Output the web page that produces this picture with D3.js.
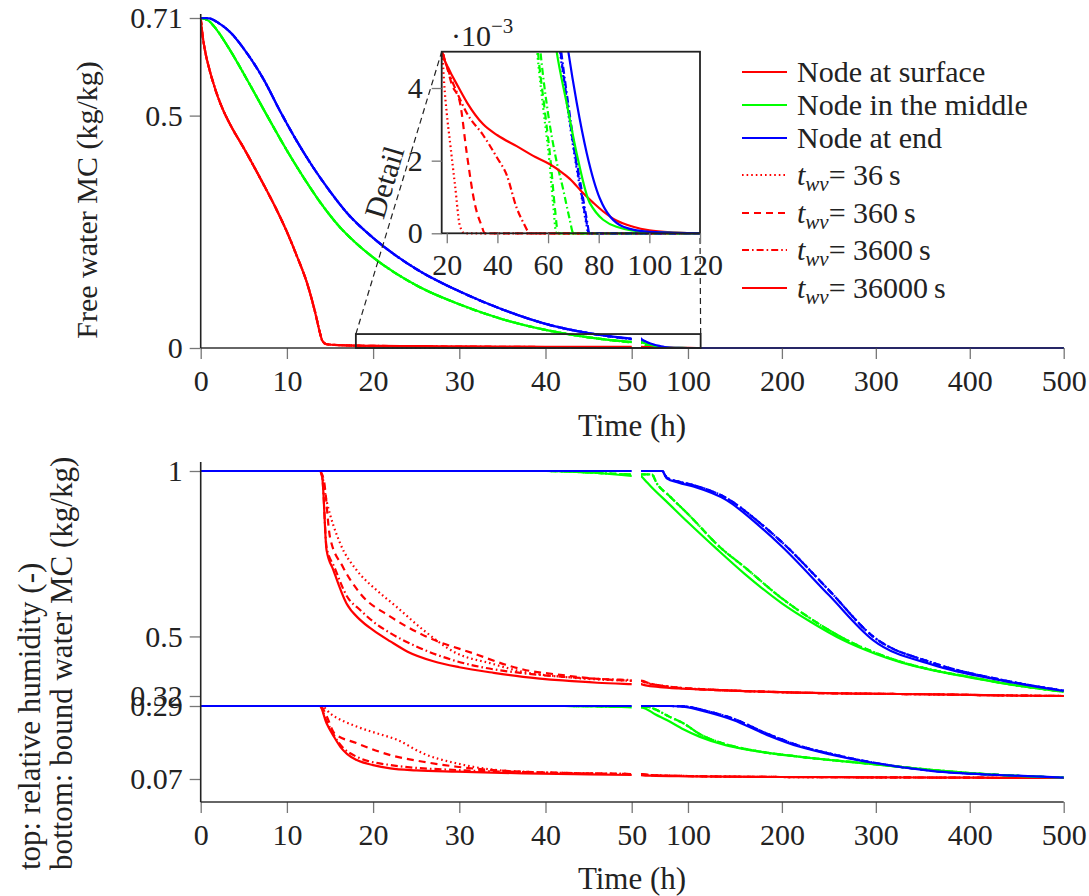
<!DOCTYPE html>
<html>
<head>
<meta charset="utf-8">
<script src="https://cdnjs.cloudflare.com/ajax/libs/d3/7.8.5/d3.min.js"></script>
<style>
  body { margin: 0; background: #fff; }
  svg { font-family: "Liberation Serif", "Times New Roman", serif; }
  .tick line { stroke: #777; stroke-width: 1.3; }
  .tick text { font-size: 30px; fill: #222; }
</style>
</head>
<body>
<div id="chart"></div>
<script>

// ---------- data (time in h) ----------

const nodeNames = ["Node at surface", "Node in the middle", "Node at end"];
const nodeColors = ["#ff0000", "#00ff00", "#0000ff"];
const twvValues = [36, 360, 3600, 36000];
const twvDash = ["1.6,3", "7,5", "7,3,1.6,3", null];

const xTicksA = [0, 10, 20, 30, 40, 50];
const xTicksB = [100, 200, 300, 400, 500];
const fwTicks = [0, 0.5, 0.71];
const rhTicks = [0.32, 0.5, 1];
const bmcTicks = [0.07, 0.29];
const insetXTicks = [20, 40, 60, 80, 100, 120];
const insetYTicks = [0, 0.002, 0.004];

// free water MC (kg/kg): heads are shared by the 4 t_wv runs
const fwSurfHead = [[0,0.71],[0.2,0.675],[0.5,0.64],[1,0.6],[1.5,0.568],[2,0.54],[2.6,0.512],[3.5,0.478],[5,0.43],[7,0.362],[9,0.29],[10,0.25],[11,0.205],[12.5,0.13],[13.3,0.075],[13.8,0.035],[14.1,0.016]];
const fwSurfTail36 = [[14.6,0.008],[16.2,0.0062],[18.3,0.0049],[19,0.0041],[20,0.0033],[21.3,0.0025],[23.3,0.0013],[25.2,0.0002],[27,0],[500,0]];
const fwSurfTail360 = [[14.6,0.008],[16.2,0.0062],[18.3,0.005],[20,0.0046],[22,0.0041],[25.2,0.0036],[27.9,0.0022],[31.1,0.0008],[33.8,0.0002],[35,0],[500,0]];
const fwSurfTail3600 = [[14.6,0.008],[16.2,0.0062],[18.5,0.005],[21,0.0044],[23.9,0.0039],[28,0.0033],[34.4,0.0027],[39.7,0.0021],[43.7,0.0016],[47.6,0.0007],[50.2,0.0003],[53,0],[500,0]];
const fwSurfTail36000 = [[14.6,0.008],[16.2,0.006],[18.2,0.005],[21,0.0045],[24,0.0041],[28,0.0036],[34.4,0.003],[40,0.0027],[47.6,0.0024],[55,0.0021],[60.7,0.0019],[65,0.0017],[68.6,0.0015],[73.9,0.0011],[78,0.00083],[81.8,0.0006],[87,0.00035],[93.6,0.00018],[100,0.00008],[110,0.00002],[120,0],[500,0]];

const fwMidHead = [[0,0.71],[0.5,0.708],[1,0.703],[1.5,0.693],[3.4,0.641],[5.3,0.58],[7.7,0.5],[10,0.425],[12,0.365],[14,0.31],[16,0.263],[18,0.226],[20,0.195],[25,0.135],[30,0.094],[35,0.062],[40,0.039],[45,0.023]];
const fwMidTail36 = [[50,0.012],[53,0.0075],[55.7,0.005],[58,0.0035],[60.5,0.002],[62,0.0008],[63.3,0],[500,0]];
const fwMidTail360 = [[50,0.012],[53,0.0078],[56,0.005],[58.5,0.0035],[61,0.002],[62.7,0.0007],[64,0],[500,0]];
const fwMidTail3600 = [[50,0.0125],[54,0.0075],[57,0.005],[60,0.0033],[63,0.0021],[66,0.0012],[68.5,0.0004],[70,0],[500,0]];
const fwMidTail36000 = [[50,0.013],[55,0.0095],[60,0.0068],[63.4,0.005],[67.3,0.0036],[71.3,0.0022],[76.5,0.00083],[87,0.00018],[100,0.00003],[120,0],[500,0]];

const fwEndHead = [[0,0.71],[1,0.709],[2,0.70],[3.4,0.68],[5.3,0.636],[7.3,0.578],[9.2,0.51],[11,0.45],[13,0.39],[15,0.337],[17,0.29],[20,0.237],[25,0.17],[30,0.122],[35,0.083],[40,0.052],[45,0.032]];
const fwEndTail36 = [[50,0.019],[55,0.012],[60,0.0078],[64.7,0.005],[68,0.0033],[71,0.0019],[73,0.0011],[75,0.0003],[76,0],[500,0]];
const fwEndTail360 = [[50,0.019],[55,0.0122],[60,0.008],[64.9,0.005],[68.2,0.0033],[71.2,0.0019],[73.2,0.0011],[75.2,0.0003],[76.1,0],[500,0]];
const fwEndTail3600 = [[50,0.0195],[55,0.0125],[60,0.0082],[65.2,0.005],[68.5,0.0033],[71.5,0.0019],[73.5,0.0011],[75.5,0.0003],[76.3,0],[500,0]];
const fwEndTail36000 = [[50,0.02],[55,0.014],[60,0.0095],[65,0.0065],[68,0.005],[71.3,0.0036],[75.3,0.0022],[80.5,0.00095],[89.7,0.00018],[100,0.00004],[120,0],[500,0]];

// relative humidity (-)
const rhSurf36 = [[0,1],[13.9,1],[14.6,0.91],[16.2,0.78],[18.1,0.70],[20.4,0.64],[22.7,0.59],[25.8,0.52],[29.7,0.449],[33.6,0.419],[37.4,0.393],[42,0.378],[46,0.37],[50,0.366],[55,0.361],[70,0.352],[90,0.345],[113,0.341],[160,0.335],[219,0.33],[290,0.327],[361,0.325],[430,0.322],[500,0.32]];
const rhSurf360 = [[0,1],[13.8,1],[14.3,0.97],[15,0.80],[16.5,0.71],[18.5,0.63],[22,0.56],[25.8,0.504],[31.6,0.449],[37.4,0.40],[42,0.383],[46,0.372],[50,0.366],[55,0.36],[70,0.352],[90,0.345],[113,0.341],[160,0.335],[219,0.33],[290,0.327],[361,0.325],[430,0.322],[500,0.32]];
const rhSurf3600 = [[0,1],[13.8,1],[14.1,0.98],[14.6,0.77],[15.5,0.71],[17,0.62],[18.5,0.58],[20,0.545],[22,0.51],[25,0.47],[29.7,0.425],[33,0.405],[37.4,0.389],[42,0.378],[46,0.372],[50,0.368],[55,0.362],[70,0.352],[90,0.345],[113,0.34],[160,0.335],[219,0.33],[290,0.327],[361,0.325],[430,0.322],[500,0.32]];
const rhSurf36000 = [[0,1],[13.8,1],[14.1,0.98],[14.6,0.761],[15.4,0.70],[16.9,0.60],[18.5,0.55],[20,0.519],[22,0.485],[24,0.454],[27,0.425],[30,0.407],[34,0.39],[37.4,0.378],[42,0.367],[46,0.36],[50,0.356],[55,0.352],[70,0.347],[90,0.343],[113,0.34],[160,0.335],[219,0.33],[290,0.327],[361,0.325],[430,0.322],[500,0.32]];
const rhMidRuns = [[0,1],[40,1],[43,0.998],[46,0.994],[50,0.99],[58,0.99],[61.4,0.99],[66.7,0.963],[80,0.925],[100,0.87],[134,0.77],[160,0.71],[200,0.615],[230,0.555],[265,0.495],[300,0.45],[326,0.424],[360,0.399],[397,0.379],[450,0.352],[500,0.333]];
const rhMid36000 = [[0,1],[40,1],[43,0.998],[46,0.994],[50,0.985],[55,0.97],[60,0.955],[80,0.9],[100,0.845],[130,0.766],[160,0.69],[200,0.6],[230,0.545],[265,0.489],[300,0.447],[326,0.422],[360,0.398],[397,0.378],[450,0.352],[500,0.333]];
const rhEndRuns = [[0,1],[73,1],[75,0.99],[77.4,0.98],[90,0.968],[106,0.957],[141,0.918],[177,0.842],[200,0.785],[250,0.64],[297,0.5],[361,0.42],[432,0.37],[500,0.336]];
const rhEnd36000 = [[0,1],[73,1],[75,0.99],[77.4,0.978],[90,0.965],[105.7,0.953],[141,0.912],[176.7,0.832],[200,0.772],[250,0.625],[297,0.489],[361,0.414],[432,0.368],[500,0.335]];

// bound water MC (kg/kg)
const bmcSurf36 = [[0,0.29],[14,0.29],[15,0.268],[18.1,0.228],[20.4,0.208],[22.8,0.188],[25.8,0.147],[29.7,0.117],[33.6,0.099],[37.4,0.092],[50,0.085],[60,0.082],[100,0.079],[200,0.076],[300,0.075],[400,0.074],[500,0.073]];
const bmcSurf360 = [[0,0.29],[13.9,0.29],[14.6,0.26],[15.5,0.208],[18.1,0.178],[22,0.142],[25.8,0.122],[29.7,0.107],[37.4,0.092],[50,0.085],[60,0.082],[100,0.079],[200,0.076],[300,0.075],[400,0.074],[500,0.073]];
const bmcSurf3600 = [[0,0.29],[13.8,0.29],[14.6,0.245],[16,0.18],[18.1,0.137],[22,0.112],[29.7,0.097],[37.4,0.091],[50,0.085],[60,0.082],[100,0.079],[200,0.076],[300,0.075],[400,0.074],[500,0.073]];
const bmcSurf36000 = [[0,0.29],[13.8,0.29],[14.6,0.238],[15.4,0.2],[16.2,0.167],[17,0.145],[18.1,0.127],[20,0.112],[22,0.102],[25,0.096],[29.7,0.092],[37.4,0.087],[45,0.084],[50,0.082],[60,0.08],[100,0.078],[200,0.076],[300,0.075],[400,0.074],[500,0.073]];
const bmcMidRuns = [[0,0.29],[42,0.29],[50,0.288],[58,0.287],[65,0.28],[80,0.258],[95,0.238],[112.8,0.205],[140,0.175],[166,0.158],[219,0.137],[290,0.117],[361,0.097],[432,0.082],[500,0.074]];
const bmcMid36000 = [[0,0.29],[42,0.29],[46,0.289],[50,0.286],[55,0.282],[65,0.265],[77.4,0.248],[95,0.22],[112.8,0.197],[140,0.172],[166,0.157],[219,0.137],[290,0.117],[361,0.097],[432,0.082],[500,0.074]];
const bmcEndRuns = [[0,0.29],[80,0.29],[95,0.289],[120,0.275],[148,0.252],[184,0.207],[219,0.17],[255,0.144],[290,0.123],[361,0.095],[432,0.082],[500,0.074]];
const bmcEnd36000 = [[0,0.29],[80,0.29],[95,0.288],[120,0.272],[148,0.248],[184,0.203],[219,0.167],[255,0.142],[290,0.122],[361,0.094],[432,0.082],[500,0.074]];

// runs indexed [twv][node]
const fwRuns = [
  [fwSurfHead.concat(fwSurfTail36), fwMidHead.concat(fwMidTail36), fwEndHead.concat(fwEndTail36)],
  [fwSurfHead.concat(fwSurfTail360), fwMidHead.concat(fwMidTail360), fwEndHead.concat(fwEndTail360)],
  [fwSurfHead.concat(fwSurfTail3600), fwMidHead.concat(fwMidTail3600), fwEndHead.concat(fwEndTail3600)],
  [fwSurfHead.concat(fwSurfTail36000), fwMidHead.concat(fwMidTail36000), fwEndHead.concat(fwEndTail36000)]
];
const rhRuns = [
  [rhSurf36, rhMidRuns, rhEndRuns],
  [rhSurf360, rhMidRuns, rhEndRuns],
  [rhSurf3600, rhMidRuns, rhEndRuns],
  [rhSurf36000, rhMid36000, rhEnd36000]
];
const bmcRuns = [
  [bmcSurf36, bmcMidRuns, bmcEndRuns],
  [bmcSurf360, bmcMidRuns, bmcEndRuns],
  [bmcSurf3600, bmcMidRuns, bmcEndRuns],
  [bmcSurf36000, bmcMid36000, bmcEnd36000]
];

// ---------- layout ----------
const width = 1089, height = 896;
const lineW = 2.2;

const svg = d3.select("#chart").append("svg")
  .attr("width", width).attr("height", height);
const defs = svg.append("defs");

// broken time axis: 0-50 linear, then 50-500 compressed
const xA = d3.scaleLinear().domain([0, 50]).range([200.7, 631.7]);
const xB = d3.scaleLinear().domain([50, 500]).range([641, 1063.7]);

const topAxisY = 348;
const botAxisY = 802;
const yFw = d3.scaleLinear().domain([0, 0.71]).range([topAxisY, 18]);
const yRh = d3.scaleLinear().domain([0.32, 1]).range([696, 471]);
const yBmc = d3.scaleLinear().domain([0.07, 0.29]).range([779, 706]);

function addClip(id, x0, x1, y0, y1) {
  defs.append("clipPath").attr("id", id)
    .append("rect").attr("x", x0).attr("y", y0).attr("width", x1 - x0).attr("height", y1 - y0);
}
addClip("topA", xA.range()[0], xA.range()[1], 0, topAxisY + 3);
addClip("topB", xB.range()[0], xB.range()[1] + 2, 0, topAxisY + 3);
addClip("botA", xA.range()[0], xA.range()[1], 455, botAxisY);
addClip("botB", xB.range()[0], xB.range()[1] + 2, 455, botAxisY);

function drawRuns(runs, yScale, clipA, clipB) {
  [[xA, clipA], [xB, clipB]].forEach(([xs, clip]) => {
    const g = svg.append("g").attr("clip-path", `url(#${clip})`);
    const line = d3.line().x(d => xs(d[0])).y(d => yScale(d[1])).curve(d3.curveMonotoneX);
    runs.forEach((nodeRuns, k) => {
      nodeRuns.forEach((data, n) => {
        g.append("path")
          .attr("d", line(data))
          .attr("fill", "none")
          .attr("stroke", nodeColors[n])
          .attr("stroke-width", lineW)
          .attr("stroke-dasharray", twvDash[k]);
      });
    });
  });
}

// d3 axes put a sans-serif font on their group; drop it so the page font applies
function plainFont(g) {
  g.attr("font-family", null).attr("font-size", null);
  g.select(".domain").remove();
}

function xAxis(y) {
  [[xA, xTicksA], [xB, xTicksB]].forEach(([xs, tv]) => {
    svg.append("g").attr("transform", `translate(0,${y})`)
      .call(d3.axisBottom(xs).tickValues(tv).tickSize(11).tickPadding(11).tickFormat(d3.format("d")))
      .call(plainFont);
  });
  svg.append("line").attr("x1", xA.range()[0]).attr("x2", xB.range()[1])
    .attr("y1", y).attr("y2", y).attr("stroke", "#333").attr("stroke-width", 1.6);
}

function yAxis(scale, tv, fmt) {
  svg.append("g").attr("transform", `translate(${xA.range()[0]},0)`)
    .call(d3.axisLeft(scale).tickValues(tv).tickSize(11).tickPadding(7).tickFormat(fmt))
    .call(plainFont);
}

// ---------- top plot: free water MC ----------
drawRuns(fwRuns, yFw, "topA", "topB");
xAxis(topAxisY);
yAxis(yFw, fwTicks, d => d === 0 ? "0" : String(d));
svg.append("line").attr("x1", xA.range()[0]).attr("x2", xA.range()[0])
  .attr("y1", 14).attr("y2", topAxisY).attr("stroke", "#222").attr("stroke-width", 1.6);

svg.append("text")
  .attr("transform", `translate(97,200) rotate(-90)`)
  .attr("text-anchor", "middle").attr("font-size", 30).attr("fill", "#222")
  .text("Free water MC (kg/kg)");
svg.append("text").attr("x", 632).attr("y", 436)
  .attr("text-anchor", "middle").attr("font-size", 31).attr("fill", "#222")
  .text("Time (h)");

// zoom rectangle and connectors
const detailT = [18, 113.5], detailMax = 0.03;
const rx0 = xA(detailT[0]), rx1 = xB(detailT[1]), ry0 = yFw(detailMax);
svg.append("rect").attr("x", rx0).attr("y", ry0).attr("width", rx1 - rx0).attr("height", topAxisY - ry0)
  .attr("fill", "none").attr("stroke", "#222").attr("stroke-width", 1.8);

// ---------- inset ----------
const ix = d3.scaleLinear().domain([18, 120]).range([441.7, 700]);
const iy = d3.scaleLinear().domain([0, 0.005]).range([233.3, 51.7]);

svg.append("line").attr("x1", rx0).attr("y1", ry0).attr("x2", ix(18)).attr("y2", iy(0.005))
  .attr("stroke", "#222").attr("stroke-width", 1.2).attr("stroke-dasharray", "6,4");
svg.append("line").attr("x1", rx1).attr("y1", ry0).attr("x2", ix(120)).attr("y2", iy(0))
  .attr("stroke", "#222").attr("stroke-width", 1.2).attr("stroke-dasharray", "6,4");

svg.append("rect").attr("x", ix(18)).attr("y", iy(0.005)).attr("width", ix(120) - ix(18)).attr("height", iy(0) - iy(0.005))
  .attr("fill", "#fff");
addClip("inset", ix(18), ix(120), iy(0.005), iy(0) + 2);
const ig = svg.append("g").attr("clip-path", "url(#inset)");
const iline = d3.line().x(d => ix(d[0])).y(d => iy(d[1])).curve(d3.curveMonotoneX);
fwRuns.forEach((nodeRuns, k) => {
  nodeRuns.forEach((data, n) => {
    ig.append("path").attr("d", iline(data)).attr("fill", "none")
      .attr("stroke", nodeColors[n]).attr("stroke-width", lineW)
      .attr("stroke-dasharray", twvDash[k]);
  });
});
svg.append("rect").attr("x", ix(18)).attr("y", iy(0.005)).attr("width", ix(120) - ix(18)).attr("height", iy(0) - iy(0.005))
  .attr("fill", "none").attr("stroke", "#222").attr("stroke-width", 1.8);

svg.append("g").attr("transform", `translate(0,${iy(0)})`)
  .call(d3.axisBottom(ix).tickValues(insetXTicks).tickSize(10).tickPadding(10))
  .call(plainFont);
svg.append("g").attr("transform", `translate(${ix(18)},0)`)
  .call(d3.axisLeft(iy).tickValues(insetYTicks).tickSize(10).tickPadding(9).tickFormat(d => Math.round(d * 1000)))
  .call(plainFont);

const sci = svg.append("text").attr("x", 451).attr("y", 46).attr("font-size", 30).attr("fill", "#222");
sci.append("tspan").text("\u00b710");
sci.append("tspan").attr("dy", -13).attr("font-size", 21).text("\u22123");

svg.append("text")
  .attr("transform", `translate(384,182) rotate(-73.3)`)
  .attr("text-anchor", "middle").attr("dy", "0.35em").attr("font-size", 30).attr("fill", "#222")
  .text("Detail");

// ---------- legend ----------
const legRows = [72, 105, 138, 175, 213, 250, 288];
const legItems = nodeNames.map((name, i) => ({ color: nodeColors[i], dash: null, label: name }))
  .concat(twvValues.map((v, k) => ({ color: nodeColors[0], dash: twvDash[k], twv: v })));
legItems.forEach((it, i) => {
  const y = legRows[i];
  svg.append("line").attr("x1", 742).attr("x2", 787).attr("y1", y).attr("y2", y)
    .attr("stroke", it.color).attr("stroke-width", lineW).attr("stroke-dasharray", it.dash);
  const t = svg.append("text").attr("x", 797).attr("y", y + 10).attr("font-size", 30).attr("fill", "#222");
  if (it.label) {
    t.text(it.label);
  } else {
    t.append("tspan").attr("font-style", "italic").text("t");
    t.append("tspan").attr("font-style", "italic").attr("font-size", 21).attr("dy", 6).text("wv");
    t.append("tspan").attr("dy", -6).text("= " + it.twv + "\u2009s");
  }
});

// ---------- bottom plot: relative humidity and bound water MC ----------
drawRuns(rhRuns, yRh, "botA", "botB");
drawRuns(bmcRuns, yBmc, "botA", "botB");
xAxis(botAxisY);
yAxis(yRh, rhTicks, d => String(d));
yAxis(yBmc, bmcTicks, d => String(d));
svg.append("line").attr("x1", xA.range()[0]).attr("x2", xA.range()[0])
  .attr("y1", 462).attr("y2", botAxisY).attr("stroke", "#222").attr("stroke-width", 1.6);

svg.append("text")
  .attr("transform", `translate(40,870) rotate(-90)`)
  .attr("font-size", 31).attr("fill", "#222")
  .text("top: relative humidity (-)");
svg.append("text")
  .attr("transform", `translate(72,870) rotate(-90)`)
  .attr("font-size", 31).attr("fill", "#222")
  .text("bottom: bound water MC (kg/kg)");
svg.append("text").attr("x", 632).attr("y", 889)
  .attr("text-anchor", "middle").attr("font-size", 31).attr("fill", "#222")
  .text("Time (h)");

</script>
</body>
</html>
